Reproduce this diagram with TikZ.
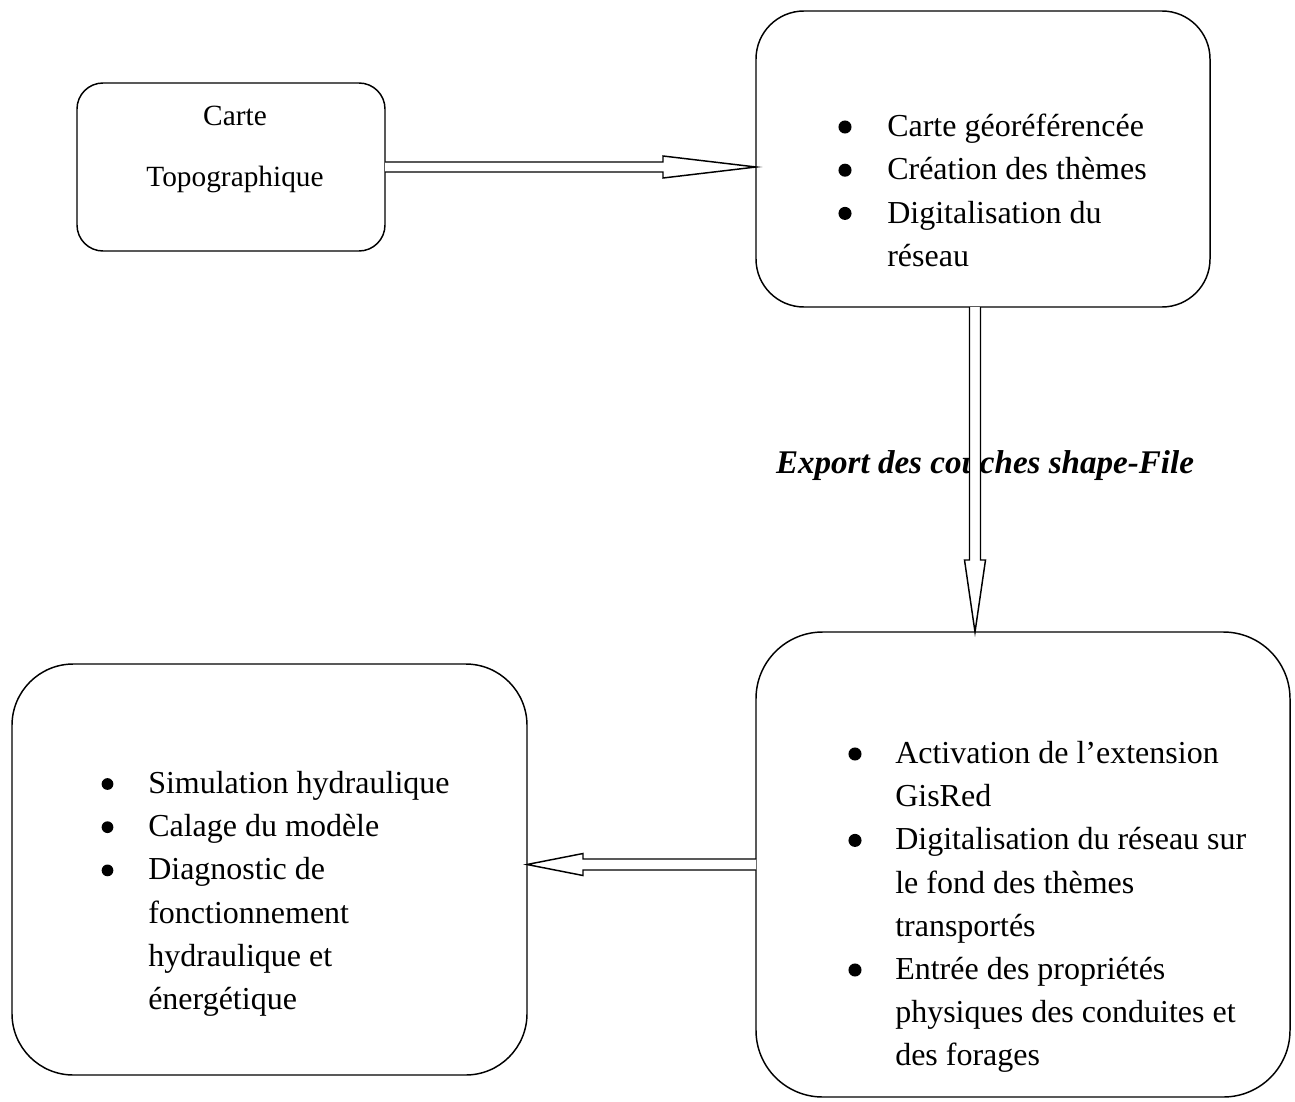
\documentclass[tikz,border=0pt]{standalone}
\usepackage{fontspec}
\setmainfont{Liberation Serif}
\usetikzlibrary{calc}
\usetikzlibrary{positioning}

\tikzset{
  etape/.style={draw, line width=1.1pt, rectangle, inner sep=0pt, outer sep=0pt},
  liste/.style={anchor=north west, inner sep=0pt, align=left, font=\fontsize{24}{32.4}\selectfont},
  puce/.style={fill=black},
  blockarrow/.style={draw, fill=white, line width=1.1pt, line join=miter}
}

\begin{document}
\begin{tikzpicture}[x=0.75pt,y=0.75pt,yscale=-1,xscale=1]
\useasboundingbox (0,0) rectangle (1295,1102);

%Boxes
\node [etape, rounded corners=19.5pt, minimum width=231pt, minimum height=126pt] (carte) at (231,167) {};
\node [etape, rounded corners=36pt, minimum width=340.5pt, minimum height=222pt] (sig) at (983,159) {};
\node [etape, rounded corners=50pt, minimum width=400.5pt, minimum height=348.75pt] (gisred) at (1023,864.5) {};
\node [etape, rounded corners=46pt, minimum width=386.25pt, minimum height=308.25pt] (simul) at (269.5,869.5) {};

% Text Node
\node [anchor=north, inner sep=0pt, align=center, font=\fontsize{22}{45.75}\selectfont] (cartetxt) at (235,106) {Carte\\Topographique};
% Text Node
\node [liste] (sigtxt) at (887,114) {Carte géoréférencée\\Création des thèmes\\Digitalisation du\\réseau};
% Text Node
\node [liste] (gisredtxt) at (895,741) {Activation de l’extension\\GisRed\\Digitalisation du réseau sur\\le fond des thèmes\\transportés\\Entrée des propriétés\\physiques des conduites et\\des forages};
% Text Node
\node [liste] (simultxt) at (148,771) {Simulation hydraulique\\Calage du modèle\\Diagnostic de\\fonctionnement\\hydraulique et\\énergétique};
% Text Node
\node [inner sep=0pt, font=\fontsize{24.8}{28}\selectfont\bfseries\itshape] (export) at (985,466) {Export des couches shape-File};

%Bullets
\foreach \i in {0,1,2} \fill [puce] ($(sigtxt.north west)+(-42,13+43.2*\i)$) circle (4.9pt);
\foreach \i in {0,2,5} \fill [puce] ($(gisredtxt.north west)+(-40,13+43.2*\i)$) circle (4.9pt);
\foreach \i in {0,1,2} \fill [puce] ($(simultxt.north west)+(-40.5,13+43.2*\i)$) circle (4.4pt);

%Arrows
\coordinate (a1s) at (carte.east);
\coordinate (a1e) at (sig.west |- carte.east);
\draw [blockarrow] ($(a1s)+(0,-5)$) -- ($(a1e)+(-93,-5)$) -- ($(a1e)+(-93,-11)$) -- (a1e) -- ($(a1e)+(-93,11)$) -- ($(a1e)+(-93,5)$) -- ($(a1s)+(0,5)$) ;

\coordinate (a2s) at ($(sig.south)+(-8,0)$);
\coordinate (a2e) at (a2s |- gisred.north);
\draw [blockarrow] ($(a2s)+(-5.5,0)$) -- ($(a2e)+(-5.5,-72)$) -- ($(a2e)+(-10.5,-72)$) -- (a2e) -- ($(a2e)+(10.5,-72)$) -- ($(a2e)+(5.5,-72)$) -- ($(a2s)+(5.5,0)$) ;

\coordinate (a3s) at (gisred.west);
\coordinate (a3e) at (simul.east |- gisred.west);
\draw [blockarrow] ($(a3s)+(0,-5.5)$) -- ($(a3e)+(56,-5.5)$) -- ($(a3e)+(56,-11)$) -- (a3e) -- ($(a3e)+(56,11)$) -- ($(a3e)+(56,5.5)$) -- ($(a3s)+(0,5.5)$) ;

\end{tikzpicture}
\end{document}
